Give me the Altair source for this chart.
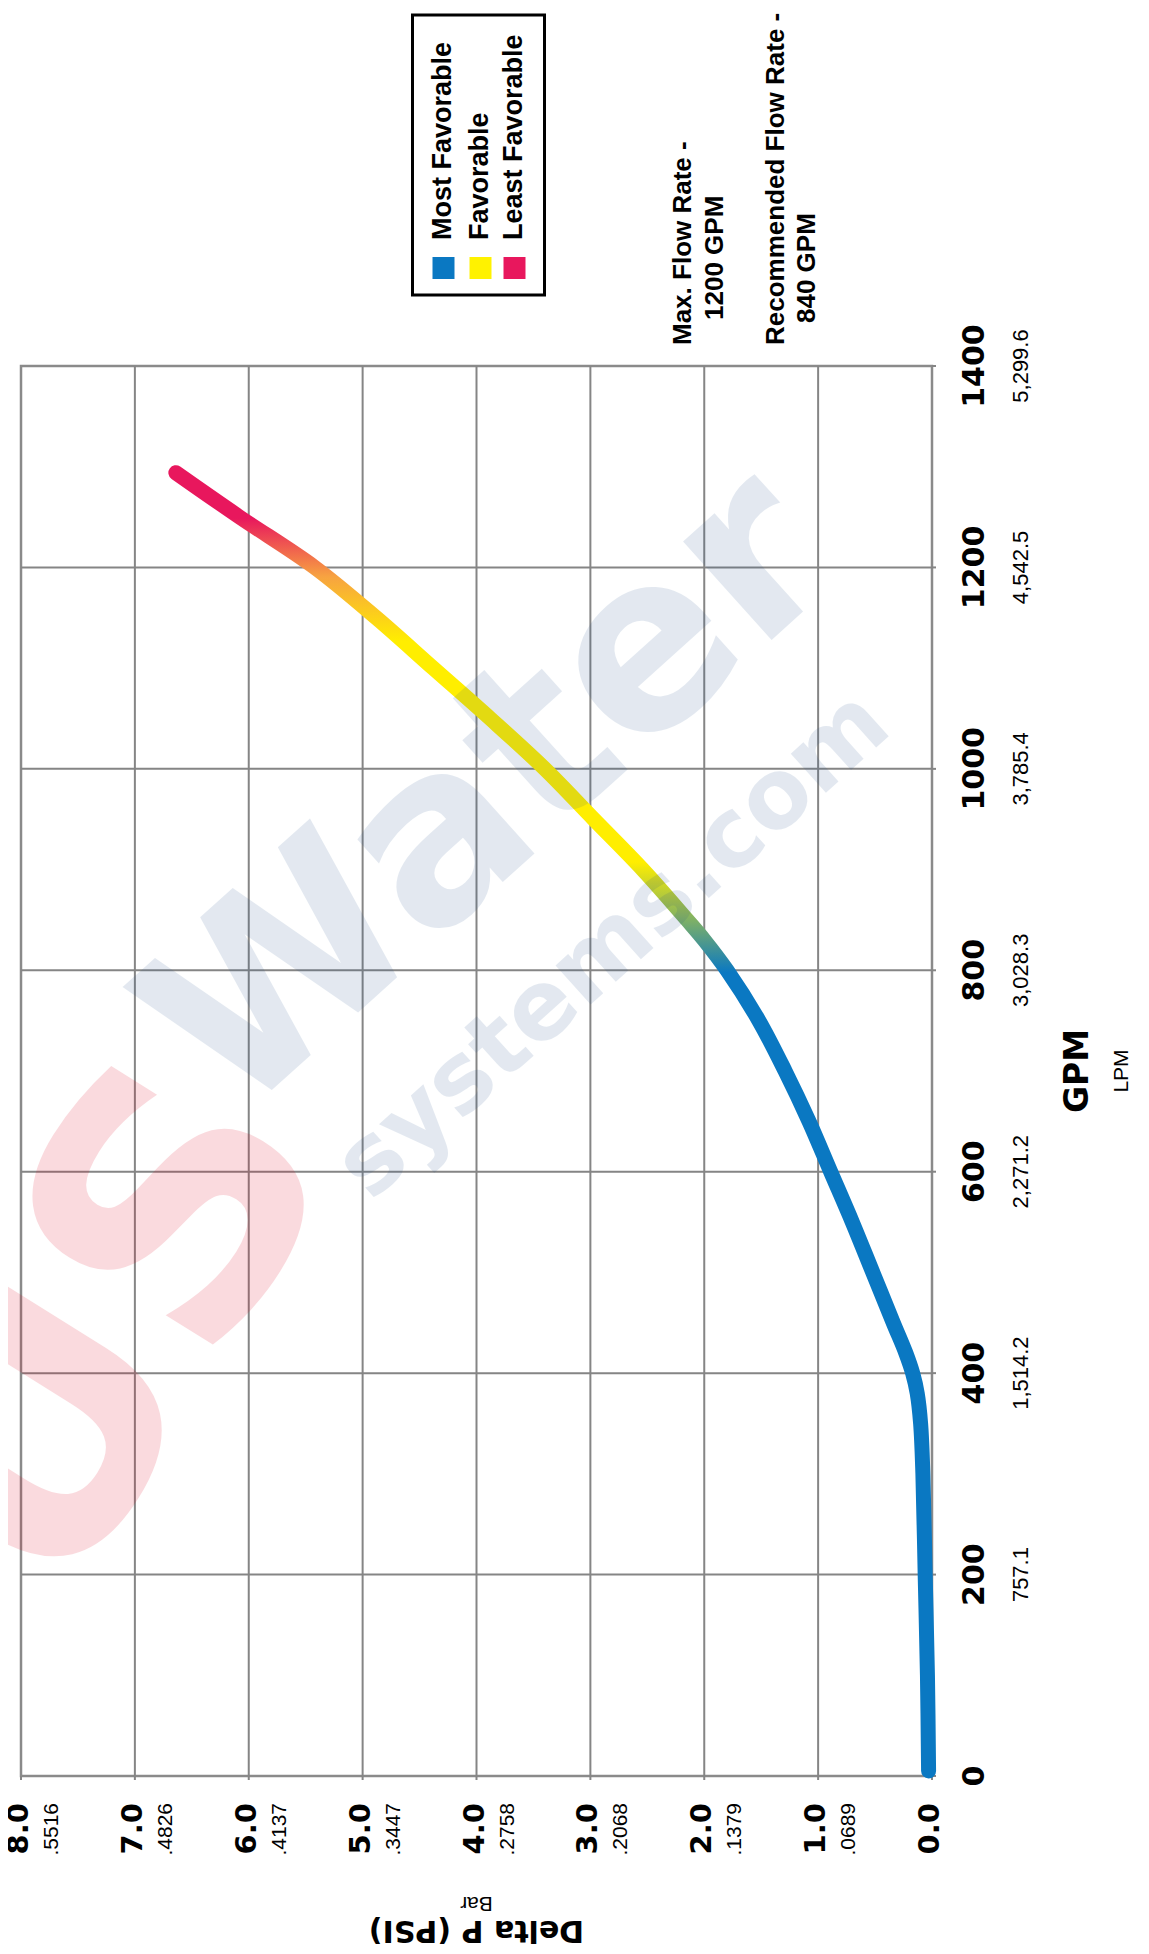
import altair as alt
import pandas as pd

# ---------------- data ----------------
gpm_ticks = [0, 200, 400, 600, 800, 1000, 1200, 1400]
gpm_labels = ["0", "200", "400", "600", "800", "1000", "1200", "1400"]
lpm_labels = ["", "757.1", "1,514.2", "2,271.2", "3,028.3", "3,785.4", "4,542.5", "5,299.6"]

dp_ticks = [0, 1, 2, 3, 4, 5, 6, 7, 8]
psi_labels = ["0.0", "1.0", "2.0", "3.0", "4.0", "5.0", "6.0", "7.0", "8.0"]
bar_labels = ["", ".0689", ".1379", ".2068", ".2758", ".3447", ".4137", ".4826", ".5516"]

curve_gpm = [5, 100, 200, 300, 350, 380, 400, 420, 450, 500, 550, 600, 650, 700,
             750, 800, 830, 850, 900, 950, 1000, 1050, 1100, 1150, 1200, 1250, 1294]
curve_dp = [0.03, 0.04, 0.06, 0.08, 0.10, 0.13, 0.17, 0.23, 0.34, 0.52, 0.70, 0.89, 1.08, 1.29,
            1.52, 1.80, 2.00, 2.15, 2.54, 2.97, 3.40, 3.88, 4.38, 4.88, 5.42, 6.08, 6.64]

legend_labels = ["Most Favorable", "Favorable", "Least Favorable"]
legend_colors = ["#0A78C2", "#FFF200", "#E8175D"]

note_lines = ["Max. Flow Rate -", "1200 GPM", "Recommended Flow Rate -", "840 GPM"]

watermark_words = ["Water", "systems.com"]
watermark_logo = ["US"]

# ---------------- styles ----------------
HEAVY = "DejaVu Sans"
PLAIN = "Liberation Sans"
GRID = "#858585"

xs = alt.Scale(domain=[0, 8], reverse=True)
ys = alt.Scale(domain=[0, 1400])
X = alt.X("dp:Q", scale=xs, axis=None)
Y = alt.Y("gpm:Q", scale=ys, axis=None)

# grid
vgrid = alt.Chart(pd.DataFrame({"dp": dp_ticks[1:-1]})).mark_rule(
    color=GRID, strokeWidth=2).encode(x=X)
hgrid = alt.Chart(pd.DataFrame({"gpm": gpm_ticks[1:-1]})).mark_rule(
    color=GRID, strokeWidth=2).encode(y=Y)
# small outside ticks
bticks = alt.Chart(pd.DataFrame({"dp": dp_ticks, "gpm": [0] * len(dp_ticks)})).mark_rule(
    color=GRID, strokeWidth=2, y2Offset=4).encode(x=X, y=Y, y2=alt.Y2("gpm"))
rticks = alt.Chart(pd.DataFrame({"gpm": gpm_ticks, "dp": [0] * len(gpm_ticks)})).mark_rule(
    color=GRID, strokeWidth=2, x2Offset=4).encode(x=X, x2=alt.X2("dp"), y=Y)

# curve with gradient
grad = alt.Gradient(
    gradient="linear",
    stops=[
        alt.GradientStop(offset=0.0, color="#0A78C2"),
        alt.GradientStop(offset=0.615, color="#0A78C2"),
        alt.GradientStop(offset=0.70, color="#FFEE00"),
        alt.GradientStop(offset=0.87, color="#FFEE00"),
        alt.GradientStop(offset=0.92, color="#F7A341"),
        alt.GradientStop(offset=0.965, color="#E8175D"),
        alt.GradientStop(offset=1.0, color="#E8175D"),
    ],
    x1=0, x2=0, y1=1, y2=0,
)
curve = alt.Chart(pd.DataFrame({"dp": curve_dp, "gpm": curve_gpm})).mark_line(
    color=grad, strokeWidth=15, strokeCap="round", strokeJoin="round",
    interpolate="catmull-rom").encode(x=X, y=Y, order="gpm:Q")

# watermark (semi-transparent overlay)
wm_blue = alt.Chart(pd.DataFrame({"dp": [3.87, 2.80], "gpm": [975, 825],
                                  "t": watermark_words, "s": [242, 96]})).mark_text(
    angle=318, align="center", baseline="middle", font=HEAVY, fontWeight="bold",
    color="#1F4E8C", opacity=0.12).encode(x=X, y=Y, text="t:N",
                                          size=alt.Size("s:Q", scale=None, legend=None))
wm_red = alt.Chart(pd.DataFrame({"dp": [7.2], "gpm": [440], "t": watermark_logo})).mark_text(
    angle=302, align="center", baseline="middle", font=HEAVY, fontWeight="bold", fontSize=350,
    color="#E0001B", opacity=0.14).encode(x=X, y=Y, text="t:N")

# GPM axis labels (right side)
gpm_df = pd.DataFrame({"gpm": gpm_ticks, "dp": [0] * len(gpm_ticks),
                       "a": gpm_labels, "b": lpm_labels})
gpm_bold = alt.Chart(gpm_df).mark_text(
    angle=270, align="center", baseline="middle", dy=43,
    font=HEAVY, fontWeight="bold", fontSize=30, color="black").encode(x=X, y=Y, text="a:N")
gpm_small = alt.Chart(gpm_df).mark_text(
    angle=270, align="center", baseline="middle", dy=89,
    font=PLAIN, fontSize=22, color="black").encode(x=X, y=Y, text="b:N")

# Delta P axis labels (bottom)
dp_df = pd.DataFrame({"dp": dp_ticks, "gpm": [0] * len(dp_ticks),
                      "a": psi_labels, "b": bar_labels})
dp_bold = alt.Chart(dp_df).mark_text(
    angle=270, align="right", baseline="middle", dx=-27, dy=-2,
    font=HEAVY, fontWeight="bold", fontSize=29, color="black").encode(x=X, y=Y, text="a:N")
dp_small = alt.Chart(dp_df).mark_text(
    angle=270, align="right", baseline="middle", dx=-27, dy=31,
    font=PLAIN, fontSize=21, color="black").encode(x=X, y=Y, text="b:N")

# axis titles
mid_df = pd.DataFrame({"dp": [0], "gpm": [700]})
t_gpm = alt.Chart(mid_df).mark_text(
    text="GPM", angle=270, align="center", baseline="middle", dy=146,
    font=HEAVY, fontWeight="bold", fontSize=33, color="black").encode(x=X, y=Y)
t_lpm = alt.Chart(mid_df).mark_text(
    text="LPM", angle=270, align="center", baseline="middle", dy=190,
    font=PLAIN, fontSize=21, color="black").encode(x=X, y=Y)

bot_df = pd.DataFrame({"dp": [4], "gpm": [0]})
t_psi = alt.Chart(bot_df).mark_text(
    text="Delta P (PSI)", angle=180, align="center", baseline="middle", dy=-154,
    font=HEAVY, fontWeight="bold", fontSize=30, color="black").encode(x=X, y=Y)
t_bar = alt.Chart(bot_df).mark_text(
    text="Bar", angle=180, align="center", baseline="middle", dy=-127,
    font=PLAIN, fontSize=21, color="black").encode(x=X, y=Y)

# legend (top), anchored at DP 4 / GPM 1400
top_df = pd.DataFrame({"dp": [4], "gpm": [1400]})
leg_box = alt.Chart(top_df).mark_rect(
    filled=False, stroke="black", strokeWidth=3,
    xOffset=-64, x2Offset=68, yOffset=-351, y2Offset=-71).encode(
    x=X, x2=alt.X2("dp"), y=Y, y2=alt.Y2("gpm"))
leg_layers = []
leg_dy = [-34, 3, 37]
for lab, col, off in zip(legend_labels, legend_colors, leg_dy):
    leg_layers.append(alt.Chart(top_df).mark_square(
        size=484, filled=True, color=col, opacity=1, xOffset=off + 1, yOffset=-98).encode(x=X, y=Y))
    leg_layers.append(alt.Chart(top_df).mark_text(
        text=lab, angle=270, align="left", baseline="middle", dx=126, dy=off,
        font=PLAIN, fontWeight="bold", fontSize=27, color="black").encode(x=X, y=Y))

# flow-rate notes, anchored at DP 2 / GPM 1400
note_df = pd.DataFrame({"dp": [2], "gpm": [1400]})
note_dx = [21, 46, 21, 43]
note_dy = [-21, 11, 72, 103]
note_layers = []
for txt, ddx, ddy in zip(note_lines, note_dx, note_dy):
    note_layers.append(alt.Chart(note_df).mark_text(
        text=txt, angle=270, align="left", baseline="middle", dx=ddx, dy=ddy,
        font=PLAIN, fontWeight="bold", fontSize=26, color="black").encode(x=X, y=Y))

chart = alt.layer(
    vgrid, hgrid, bticks, rticks, curve, wm_red, wm_blue,
    gpm_bold, gpm_small, dp_bold, dp_small, t_gpm, t_lpm, t_psi, t_bar,
    leg_box, *leg_layers, *note_layers,
).properties(
    width=911, height=1410,
    autosize=alt.AutoSizeParams(type="none"),
    padding={"left": 13, "top": 358, "right": 200, "bottom": 174},
    background="white",
).configure_view(stroke="#8a8a8a", strokeWidth=2.5)

chart.save("out.html", embed_options={"renderer": "svg", "actions": False})
